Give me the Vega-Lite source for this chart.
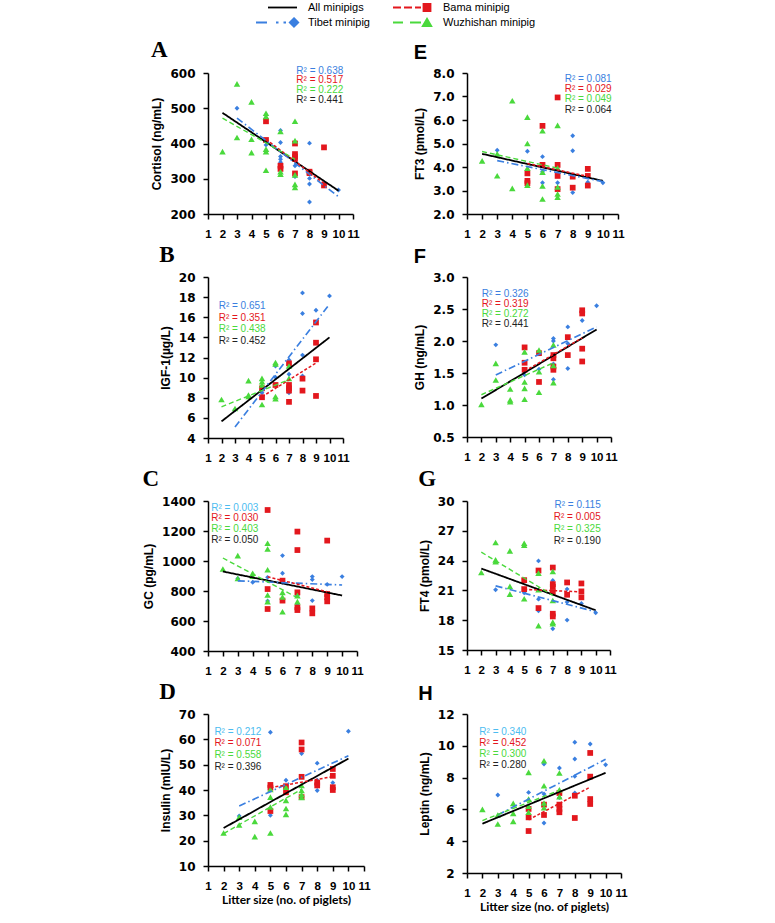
{
"$schema": "https://vega.github.io/schema/vega-lite/v6.json",
"background": "white",
"padding": {"left": 142, "top": 0, "right": 5, "bottom": 5},
"columns": 2,
"spacing": {"row": 63, "column": 103},
"bounds": "flush",
"center": {"row": true},
"resolve": {"scale": {"x": "independent", "y": "independent", "color": "independent", "shape": "independent", "size": "independent", "stroke": "independent", "fill": "independent", "strokeDash": "independent", "strokeWidth": "independent"}},
"datasets": {
"legend": [
{"series": "All", "label": "All minipigs"},
{"series": "Tibet", "label": "Tibet minipig"},
{"series": "Bama", "label": "Bama minipig"},
{"series": "Wuzhishan", "label": "Wuzhishan minipig"}
],
"r2": [
{"panel": "A", "series": "Tibet", "label": "R² = 0.638"},
{"panel": "A", "series": "Bama", "label": "R² = 0.517"},
{"panel": "A", "series": "Wuzhishan", "label": "R² = 0.222"},
{"panel": "A", "series": "All", "label": "R² = 0.441"},
{"panel": "E", "series": "Tibet", "label": "R² = 0.081"},
{"panel": "E", "series": "Bama", "label": "R² = 0.029"},
{"panel": "E", "series": "Wuzhishan", "label": "R² = 0.049"},
{"panel": "E", "series": "All", "label": "R² = 0.064"},
{"panel": "B", "series": "Tibet", "label": "R² = 0.651"},
{"panel": "B", "series": "Bama", "label": "R² = 0.351"},
{"panel": "B", "series": "Wuzhishan", "label": "R² = 0.438"},
{"panel": "B", "series": "All", "label": "R² = 0.452"},
{"panel": "F", "series": "Tibet", "label": "R² = 0.326"},
{"panel": "F", "series": "Bama", "label": "R² = 0.319"},
{"panel": "F", "series": "Wuzhishan", "label": "R² = 0.272"},
{"panel": "F", "series": "All", "label": "R² = 0.441"},
{"panel": "C", "series": "Tibet", "label": "R² = 0.003"},
{"panel": "C", "series": "Bama", "label": "R² = 0.030"},
{"panel": "C", "series": "Wuzhishan", "label": "R² = 0.403"},
{"panel": "C", "series": "All", "label": "R² = 0.050"},
{"panel": "G", "series": "Tibet", "label": "R² = 0.115"},
{"panel": "G", "series": "Bama", "label": "R² = 0.005"},
{"panel": "G", "series": "Wuzhishan", "label": "R² = 0.325"},
{"panel": "G", "series": "All", "label": "R² = 0.190"},
{"panel": "D", "series": "Tibet", "label": "R² = 0.212"},
{"panel": "D", "series": "Bama", "label": "R² = 0.071"},
{"panel": "D", "series": "Wuzhishan", "label": "R² = 0.558"},
{"panel": "D", "series": "All", "label": "R² = 0.396"},
{"panel": "H", "series": "Tibet", "label": "R² = 0.340"},
{"panel": "H", "series": "Bama", "label": "R² = 0.452"},
{"panel": "H", "series": "Wuzhishan", "label": "R² = 0.300"},
{"panel": "H", "series": "All", "label": "R² = 0.280"}
],
"lines": [
{"panel": "A", "series": "All", "litter": 2, "value": 487}, {"panel": "A", "series": "All", "litter": 10, "value": 266},
{"panel": "A", "series": "Tibet", "litter": 3, "value": 472}, {"panel": "A", "series": "Tibet", "litter": 10, "value": 249},
{"panel": "A", "series": "Bama", "litter": 5, "value": 412}, {"panel": "A", "series": "Bama", "litter": 9, "value": 287},
{"panel": "A", "series": "Wuzhishan", "litter": 2, "value": 472}, {"panel": "A", "series": "Wuzhishan", "litter": 7, "value": 355},
{"panel": "E", "series": "All", "litter": 2, "value": 4.56}, {"panel": "E", "series": "All", "litter": 10, "value": 3.41},
{"panel": "E", "series": "Tibet", "litter": 3, "value": 4.27}, {"panel": "E", "series": "Tibet", "litter": 10, "value": 3.38},
{"panel": "E", "series": "Bama", "litter": 5, "value": 4.15}, {"panel": "E", "series": "Bama", "litter": 9, "value": 3.6},
{"panel": "E", "series": "Wuzhishan", "litter": 2, "value": 4.66}, {"panel": "E", "series": "Wuzhishan", "litter": 7, "value": 3.95},
{"panel": "B", "series": "All", "litter": 2, "value": 5.65}, {"panel": "B", "series": "All", "litter": 10, "value": 14.0},
{"panel": "B", "series": "Tibet", "litter": 3, "value": 5.1}, {"panel": "B", "series": "Tibet", "litter": 10, "value": 17.3},
{"panel": "B", "series": "Bama", "litter": 5, "value": 8.1}, {"panel": "B", "series": "Bama", "litter": 9, "value": 11.45},
{"panel": "B", "series": "Wuzhishan", "litter": 2, "value": 7.1}, {"panel": "B", "series": "Wuzhishan", "litter": 7, "value": 9.8},
{"panel": "F", "series": "All", "litter": 2, "value": 1.1}, {"panel": "F", "series": "All", "litter": 10, "value": 2.18},
{"panel": "F", "series": "Tibet", "litter": 3, "value": 1.47}, {"panel": "F", "series": "Tibet", "litter": 10, "value": 2.22},
{"panel": "F", "series": "Bama", "litter": 5, "value": 1.53}, {"panel": "F", "series": "Bama", "litter": 9, "value": 2.05},
{"panel": "F", "series": "Wuzhishan", "litter": 2, "value": 1.16}, {"panel": "F", "series": "Wuzhishan", "litter": 7, "value": 1.66},
{"panel": "C", "series": "All", "litter": 2, "value": 930}, {"panel": "C", "series": "All", "litter": 10, "value": 770},
{"panel": "C", "series": "Tibet", "litter": 3, "value": 868}, {"panel": "C", "series": "Tibet", "litter": 10, "value": 840},
{"panel": "C", "series": "Bama", "litter": 5, "value": 895}, {"panel": "C", "series": "Bama", "litter": 9, "value": 795},
{"panel": "C", "series": "Wuzhishan", "litter": 2, "value": 1020}, {"panel": "C", "series": "Wuzhishan", "litter": 7, "value": 755},
{"panel": "G", "series": "All", "litter": 2, "value": 23.2}, {"panel": "G", "series": "All", "litter": 10, "value": 19.0},
{"panel": "G", "series": "Tibet", "litter": 3, "value": 21.45}, {"panel": "G", "series": "Tibet", "litter": 10, "value": 18.85},
{"panel": "G", "series": "Bama", "litter": 5, "value": 21.1}, {"panel": "G", "series": "Bama", "litter": 9, "value": 20.85},
{"panel": "G", "series": "Wuzhishan", "litter": 2, "value": 24.85}, {"panel": "G", "series": "Wuzhishan", "litter": 7, "value": 20.5},
{"panel": "D", "series": "All", "litter": 2, "value": 25}, {"panel": "D", "series": "All", "litter": 10, "value": 52.4},
{"panel": "D", "series": "Tibet", "litter": 3, "value": 33.7}, {"panel": "D", "series": "Tibet", "litter": 10, "value": 53.5},
{"panel": "D", "series": "Bama", "litter": 5, "value": 40.9}, {"panel": "D", "series": "Bama", "litter": 9, "value": 45.3},
{"panel": "D", "series": "Wuzhishan", "litter": 2, "value": 22.8}, {"panel": "D", "series": "Wuzhishan", "litter": 7, "value": 40.3},
{"panel": "H", "series": "All", "litter": 2, "value": 5.1}, {"panel": "H", "series": "All", "litter": 10, "value": 8.3},
{"panel": "H", "series": "Tibet", "litter": 3, "value": 5.65}, {"panel": "H", "series": "Tibet", "litter": 10, "value": 9.15},
{"panel": "H", "series": "Bama", "litter": 5, "value": 5.35}, {"panel": "H", "series": "Bama", "litter": 9, "value": 7.4},
{"panel": "H", "series": "Wuzhishan", "litter": 2, "value": 5.3}, {"panel": "H", "series": "Wuzhishan", "litter": 7, "value": 7.2}
],
"points": [
{"panel":"A","series":"Tibet","litter":3,"value":500},{"panel":"A","series":"Tibet","litter":5,"value":396},{"panel":"A","series":"Tibet","litter":6,"value":437},{"panel":"A","series":"Tibet","litter":6,"value":403},{"panel":"A","series":"Tibet","litter":6,"value":363},{"panel":"A","series":"Tibet","litter":6,"value":355},{"panel":"A","series":"Tibet","litter":6,"value":347},{"panel":"A","series":"Tibet","litter":7,"value":337},{"panel":"A","series":"Tibet","litter":7,"value":306},{"panel":"A","series":"Tibet","litter":8,"value":401},{"panel":"A","series":"Tibet","litter":8,"value":316},{"panel":"A","series":"Tibet","litter":8,"value":301},{"panel":"A","series":"Tibet","litter":8,"value":285},{"panel":"A","series":"Tibet","litter":8,"value":234},{"panel":"A","series":"Tibet","litter":9,"value":287},{"panel":"A","series":"Tibet","litter":10,"value":268},
{"panel":"A","series":"Bama","litter":5,"value":463},{"panel":"A","series":"Bama","litter":5,"value":410},{"panel":"A","series":"Bama","litter":6,"value":337},{"panel":"A","series":"Bama","litter":6,"value":328},{"panel":"A","series":"Bama","litter":7,"value":400},{"panel":"A","series":"Bama","litter":7,"value":370},{"panel":"A","series":"Bama","litter":7,"value":363},{"panel":"A","series":"Bama","litter":7,"value":356},{"panel":"A","series":"Bama","litter":7,"value":315},{"panel":"A","series":"Bama","litter":8,"value":320},{"panel":"A","series":"Bama","litter":8,"value":316},{"panel":"A","series":"Bama","litter":9,"value":389},{"panel":"A","series":"Bama","litter":9,"value":281},
{"panel":"A","series":"Wuzhishan","litter":2,"value":377},{"panel":"A","series":"Wuzhishan","litter":3,"value":569},{"panel":"A","series":"Wuzhishan","litter":3,"value":417},{"panel":"A","series":"Wuzhishan","litter":4,"value":518},{"panel":"A","series":"Wuzhishan","litter":4,"value":412},{"panel":"A","series":"Wuzhishan","litter":4,"value":374},{"panel":"A","series":"Wuzhishan","litter":5,"value":486},{"panel":"A","series":"Wuzhishan","litter":5,"value":477},{"panel":"A","series":"Wuzhishan","litter":5,"value":384},{"panel":"A","series":"Wuzhishan","litter":5,"value":377},{"panel":"A","series":"Wuzhishan","litter":5,"value":324},{"panel":"A","series":"Wuzhishan","litter":6,"value":434},{"panel":"A","series":"Wuzhishan","litter":6,"value":320},{"panel":"A","series":"Wuzhishan","litter":6,"value":313},{"panel":"A","series":"Wuzhishan","litter":7,"value":463},{"panel":"A","series":"Wuzhishan","litter":7,"value":408},{"panel":"A","series":"Wuzhishan","litter":7,"value":311},{"panel":"A","series":"Wuzhishan","litter":7,"value":284},{"panel":"A","series":"Wuzhishan","litter":7,"value":275},
{"panel":"E","series":"Tibet","litter":3,"value":4.71},{"panel":"E","series":"Tibet","litter":5,"value":4.67},{"panel":"E","series":"Tibet","litter":6,"value":4.44},{"panel":"E","series":"Tibet","litter":6,"value":3.8},{"panel":"E","series":"Tibet","litter":6,"value":3.33},{"panel":"E","series":"Tibet","litter":7,"value":3.9},{"panel":"E","series":"Tibet","litter":7,"value":3.33},{"panel":"E","series":"Tibet","litter":8,"value":5.33},{"panel":"E","series":"Tibet","litter":8,"value":4.69},{"panel":"E","series":"Tibet","litter":8,"value":2.91},{"panel":"E","series":"Tibet","litter":9,"value":3.35},{"panel":"E","series":"Tibet","litter":10,"value":3.33},
{"panel":"E","series":"Bama","litter":5,"value":3.73},{"panel":"E","series":"Bama","litter":5,"value":3.41},{"panel":"E","series":"Bama","litter":5,"value":3.31},{"panel":"E","series":"Bama","litter":6,"value":5.75},{"panel":"E","series":"Bama","litter":6,"value":4.09},{"panel":"E","series":"Bama","litter":7,"value":6.96},{"panel":"E","series":"Bama","litter":7,"value":4.09},{"panel":"E","series":"Bama","litter":7,"value":3.62},{"panel":"E","series":"Bama","litter":7,"value":3.06},{"panel":"E","series":"Bama","litter":8,"value":3.59},{"panel":"E","series":"Bama","litter":8,"value":3.12},{"panel":"E","series":"Bama","litter":9,"value":3.92},{"panel":"E","series":"Bama","litter":9,"value":3.62},{"panel":"E","series":"Bama","litter":9,"value":3.21},
{"panel":"E","series":"Wuzhishan","litter":2,"value":4.26},{"panel":"E","series":"Wuzhishan","litter":3,"value":4.56},{"panel":"E","series":"Wuzhishan","litter":3,"value":3.63},{"panel":"E","series":"Wuzhishan","litter":4,"value":6.82},{"panel":"E","series":"Wuzhishan","litter":4,"value":3.09},{"panel":"E","series":"Wuzhishan","litter":5,"value":6.12},{"panel":"E","series":"Wuzhishan","litter":5,"value":5.0},{"panel":"E","series":"Wuzhishan","litter":5,"value":3.95},{"panel":"E","series":"Wuzhishan","litter":5,"value":3.23},{"panel":"E","series":"Wuzhishan","litter":6,"value":5.54},{"panel":"E","series":"Wuzhishan","litter":6,"value":3.78},{"panel":"E","series":"Wuzhishan","litter":6,"value":3.19},{"panel":"E","series":"Wuzhishan","litter":6,"value":2.64},{"panel":"E","series":"Wuzhishan","litter":7,"value":5.77},{"panel":"E","series":"Wuzhishan","litter":7,"value":3.95},{"panel":"E","series":"Wuzhishan","litter":7,"value":3.15},{"panel":"E","series":"Wuzhishan","litter":7,"value":2.85},{"panel":"E","series":"Wuzhishan","litter":7,"value":2.71},
{"panel":"B","series":"Tibet","litter":3,"value":6.8},{"panel":"B","series":"Tibet","litter":5,"value":8.5},{"panel":"B","series":"Tibet","litter":6,"value":11.16},{"panel":"B","series":"Tibet","litter":6,"value":10.03},{"panel":"B","series":"Tibet","litter":7,"value":11.75},{"panel":"B","series":"Tibet","litter":7,"value":10.33},{"panel":"B","series":"Tibet","litter":7,"value":8.5},{"panel":"B","series":"Tibet","litter":8,"value":18.42},{"panel":"B","series":"Tibet","litter":8,"value":16.37},{"panel":"B","series":"Tibet","litter":8,"value":12.24},{"panel":"B","series":"Tibet","litter":8,"value":10.17},{"panel":"B","series":"Tibet","litter":9,"value":16.7},{"panel":"B","series":"Tibet","litter":10,"value":18.12},
{"panel":"B","series":"Bama","litter":5,"value":8.05},{"panel":"B","series":"Bama","litter":5,"value":8.94},{"panel":"B","series":"Bama","litter":6,"value":9.27},{"panel":"B","series":"Bama","litter":7,"value":11.42},{"panel":"B","series":"Bama","litter":7,"value":9.27},{"panel":"B","series":"Bama","litter":7,"value":8.94},{"panel":"B","series":"Bama","litter":7,"value":8.71},{"panel":"B","series":"Bama","litter":7,"value":7.59},{"panel":"B","series":"Bama","litter":8,"value":9.9},{"panel":"B","series":"Bama","litter":8,"value":8.71},{"panel":"B","series":"Bama","litter":9,"value":15.48},{"panel":"B","series":"Bama","litter":9,"value":13.47},{"panel":"B","series":"Bama","litter":9,"value":11.82},{"panel":"B","series":"Bama","litter":9,"value":8.18},
{"panel":"B","series":"Wuzhishan","litter":2,"value":7.82},{"panel":"B","series":"Wuzhishan","litter":3,"value":6.93},{"panel":"B","series":"Wuzhishan","litter":4,"value":9.7},{"panel":"B","series":"Wuzhishan","litter":4,"value":8.28},{"panel":"B","series":"Wuzhishan","litter":4,"value":8.12},{"panel":"B","series":"Wuzhishan","litter":5,"value":9.93},{"panel":"B","series":"Wuzhishan","litter":5,"value":9.6},{"panel":"B","series":"Wuzhishan","litter":5,"value":9.27},{"panel":"B","series":"Wuzhishan","litter":5,"value":7.33},{"panel":"B","series":"Wuzhishan","litter":6,"value":11.5},{"panel":"B","series":"Wuzhishan","litter":6,"value":11.35},{"panel":"B","series":"Wuzhishan","litter":6,"value":8.12},{"panel":"B","series":"Wuzhishan","litter":6,"value":7.9},{"panel":"B","series":"Wuzhishan","litter":7,"value":11.16},{"panel":"B","series":"Wuzhishan","litter":7,"value":9.93},
{"panel":"F","series":"Tibet","litter":3,"value":1.94},{"panel":"F","series":"Tibet","litter":5,"value":1.47},{"panel":"F","series":"Tibet","litter":6,"value":1.56},{"panel":"F","series":"Tibet","litter":7,"value":2.04},{"panel":"F","series":"Tibet","litter":7,"value":2.0},{"panel":"F","series":"Tibet","litter":7,"value":1.64},{"panel":"F","series":"Tibet","litter":7,"value":1.4},{"panel":"F","series":"Tibet","litter":8,"value":2.22},{"panel":"F","series":"Tibet","litter":8,"value":1.96},{"panel":"F","series":"Tibet","litter":8,"value":1.57},{"panel":"F","series":"Tibet","litter":9,"value":2.32},{"panel":"F","series":"Tibet","litter":10,"value":2.55},
{"panel":"F","series":"Bama","litter":5,"value":1.9},{"panel":"F","series":"Bama","litter":5,"value":1.66},{"panel":"F","series":"Bama","litter":5,"value":1.55},{"panel":"F","series":"Bama","litter":6,"value":1.81},{"panel":"F","series":"Bama","litter":6,"value":1.36},{"panel":"F","series":"Bama","litter":7,"value":1.78},{"panel":"F","series":"Bama","litter":7,"value":1.73},{"panel":"F","series":"Bama","litter":7,"value":1.6},{"panel":"F","series":"Bama","litter":7,"value":1.55},{"panel":"F","series":"Bama","litter":8,"value":2.06},{"panel":"F","series":"Bama","litter":8,"value":1.78},{"panel":"F","series":"Bama","litter":9,"value":2.48},{"panel":"F","series":"Bama","litter":9,"value":2.43},{"panel":"F","series":"Bama","litter":9,"value":1.88},{"panel":"F","series":"Bama","litter":9,"value":1.68},
{"panel":"F","series":"Wuzhishan","litter":2,"value":1.01},{"panel":"F","series":"Wuzhishan","litter":3,"value":1.65},{"panel":"F","series":"Wuzhishan","litter":3,"value":1.39},{"panel":"F","series":"Wuzhishan","litter":4,"value":1.25},{"panel":"F","series":"Wuzhishan","litter":4,"value":1.08},{"panel":"F","series":"Wuzhishan","litter":4,"value":1.05},{"panel":"F","series":"Wuzhishan","litter":5,"value":1.83},{"panel":"F","series":"Wuzhishan","litter":5,"value":1.36},{"panel":"F","series":"Wuzhishan","litter":5,"value":1.26},{"panel":"F","series":"Wuzhishan","litter":5,"value":1.09},{"panel":"F","series":"Wuzhishan","litter":6,"value":1.86},{"panel":"F","series":"Wuzhishan","litter":6,"value":1.52},{"panel":"F","series":"Wuzhishan","litter":6,"value":1.2},{"panel":"F","series":"Wuzhishan","litter":7,"value":1.94},{"panel":"F","series":"Wuzhishan","litter":7,"value":1.62},{"panel":"F","series":"Wuzhishan","litter":7,"value":1.35},
{"panel":"C","series":"Tibet","litter":3,"value":884},{"panel":"C","series":"Tibet","litter":4,"value":858},{"panel":"C","series":"Tibet","litter":5,"value":891},{"panel":"C","series":"Tibet","litter":5,"value":733},{"panel":"C","series":"Tibet","litter":6,"value":1036},{"panel":"C","series":"Tibet","litter":6,"value":918},{"panel":"C","series":"Tibet","litter":6,"value":860},{"panel":"C","series":"Tibet","litter":7,"value":707},{"panel":"C","series":"Tibet","litter":7,"value":770},{"panel":"C","series":"Tibet","litter":8,"value":896},{"panel":"C","series":"Tibet","litter":8,"value":876},{"panel":"C","series":"Tibet","litter":8,"value":736},{"panel":"C","series":"Tibet","litter":9,"value":844},{"panel":"C","series":"Tibet","litter":10,"value":896},
{"panel":"C","series":"Bama","litter":5,"value":1340},{"panel":"C","series":"Bama","litter":5,"value":813},{"panel":"C","series":"Bama","litter":5,"value":680},{"panel":"C","series":"Bama","litter":6,"value":869},{"panel":"C","series":"Bama","litter":6,"value":736},{"panel":"C","series":"Bama","litter":7,"value":1196},{"panel":"C","series":"Bama","litter":7,"value":1073},{"panel":"C","series":"Bama","litter":7,"value":791},{"panel":"C","series":"Bama","litter":7,"value":691},{"panel":"C","series":"Bama","litter":7,"value":673},{"panel":"C","series":"Bama","litter":8,"value":684},{"panel":"C","series":"Bama","litter":8,"value":651},{"panel":"C","series":"Bama","litter":9,"value":1136},{"panel":"C","series":"Bama","litter":9,"value":780},{"panel":"C","series":"Bama","litter":9,"value":758},{"panel":"C","series":"Bama","litter":9,"value":731},
{"panel":"C","series":"Wuzhishan","litter":2,"value":947},{"panel":"C","series":"Wuzhishan","litter":3,"value":1036},{"panel":"C","series":"Wuzhishan","litter":3,"value":884},{"panel":"C","series":"Wuzhishan","litter":4,"value":918},{"panel":"C","series":"Wuzhishan","litter":4,"value":898},{"panel":"C","series":"Wuzhishan","litter":5,"value":1118},{"panel":"C","series":"Wuzhishan","litter":5,"value":1080},{"panel":"C","series":"Wuzhishan","litter":5,"value":942},{"panel":"C","series":"Wuzhishan","litter":5,"value":773},{"panel":"C","series":"Wuzhishan","litter":5,"value":729},{"panel":"C","series":"Wuzhishan","litter":6,"value":791},{"panel":"C","series":"Wuzhishan","litter":6,"value":760},{"panel":"C","series":"Wuzhishan","litter":6,"value":662},{"panel":"C","series":"Wuzhishan","litter":7,"value":769},{"panel":"C","series":"Wuzhishan","litter":7,"value":729},
{"panel":"G","series":"Tibet","litter":3,"value":21.06},{"panel":"G","series":"Tibet","litter":5,"value":20.76},{"panel":"G","series":"Tibet","litter":6,"value":23.97},{"panel":"G","series":"Tibet","litter":6,"value":20.12},{"panel":"G","series":"Tibet","litter":6,"value":18.95},{"panel":"G","series":"Tibet","litter":7,"value":22.0},{"panel":"G","series":"Tibet","litter":7,"value":18.42},{"panel":"G","series":"Tibet","litter":7,"value":17.14},{"panel":"G","series":"Tibet","litter":8,"value":21.13},{"panel":"G","series":"Tibet","litter":8,"value":19.82},{"panel":"G","series":"Tibet","litter":8,"value":18.01},{"panel":"G","series":"Tibet","litter":9,"value":19.69},{"panel":"G","series":"Tibet","litter":10,"value":18.75},
{"panel":"G","series":"Bama","litter":5,"value":22.03},{"panel":"G","series":"Bama","litter":5,"value":21.13},{"panel":"G","series":"Bama","litter":6,"value":23.0},{"panel":"G","series":"Bama","litter":6,"value":19.22},{"panel":"G","series":"Bama","litter":7,"value":23.3},{"panel":"G","series":"Bama","litter":7,"value":21.63},{"panel":"G","series":"Bama","litter":7,"value":21.36},{"panel":"G","series":"Bama","litter":7,"value":20.83},{"panel":"G","series":"Bama","litter":7,"value":18.65},{"panel":"G","series":"Bama","litter":7,"value":18.38},{"panel":"G","series":"Bama","litter":8,"value":21.8},{"panel":"G","series":"Bama","litter":8,"value":20.56},{"panel":"G","series":"Bama","litter":9,"value":21.7},{"panel":"G","series":"Bama","litter":9,"value":20.9},{"panel":"G","series":"Bama","litter":9,"value":20.3},
{"panel":"G","series":"Wuzhishan","litter":2,"value":22.8},{"panel":"G","series":"Wuzhishan","litter":3,"value":25.82},{"panel":"G","series":"Wuzhishan","litter":3,"value":24.07},{"panel":"G","series":"Wuzhishan","litter":3,"value":23.9},{"panel":"G","series":"Wuzhishan","litter":4,"value":24.98},{"panel":"G","series":"Wuzhishan","litter":4,"value":21.4},{"panel":"G","series":"Wuzhishan","litter":4,"value":20.63},{"panel":"G","series":"Wuzhishan","litter":5,"value":25.75},{"panel":"G","series":"Wuzhishan","litter":5,"value":25.55},{"panel":"G","series":"Wuzhishan","litter":5,"value":20.16},{"panel":"G","series":"Wuzhishan","litter":6,"value":22.74},{"panel":"G","series":"Wuzhishan","litter":6,"value":21.06},{"panel":"G","series":"Wuzhishan","litter":6,"value":17.45},{"panel":"G","series":"Wuzhishan","litter":7,"value":22.9},{"panel":"G","series":"Wuzhishan","litter":7,"value":19.99},{"panel":"G","series":"Wuzhishan","litter":7,"value":17.81},{"panel":"G","series":"Wuzhishan","litter":7,"value":17.65},
{"panel":"D","series":"Tibet","litter":3,"value":29.76},{"panel":"D","series":"Tibet","litter":5,"value":62.8},{"panel":"D","series":"Tibet","litter":5,"value":30.0},{"panel":"D","series":"Tibet","litter":6,"value":43.85},{"panel":"D","series":"Tibet","litter":7,"value":54.4},{"panel":"D","series":"Tibet","litter":8,"value":50.6},{"panel":"D","series":"Tibet","litter":8,"value":43.85},{"panel":"D","series":"Tibet","litter":8,"value":39.8},{"panel":"D","series":"Tibet","litter":9,"value":42.9},{"panel":"D","series":"Tibet","litter":10,"value":63.2},
{"panel":"D","series":"Bama","litter":5,"value":42.0},{"panel":"D","series":"Bama","litter":5,"value":40.9},{"panel":"D","series":"Bama","litter":5,"value":31.7},{"panel":"D","series":"Bama","litter":6,"value":41.5},{"panel":"D","series":"Bama","litter":6,"value":39.1},{"panel":"D","series":"Bama","litter":7,"value":58.75},{"panel":"D","series":"Bama","litter":7,"value":56.0},{"panel":"D","series":"Bama","litter":7,"value":45.2},{"panel":"D","series":"Bama","litter":7,"value":37.2},{"panel":"D","series":"Bama","litter":8,"value":42.9},{"panel":"D","series":"Bama","litter":8,"value":41.8},{"panel":"D","series":"Bama","litter":9,"value":48.3},{"panel":"D","series":"Bama","litter":9,"value":45.6},{"panel":"D","series":"Bama","litter":9,"value":41.1},{"panel":"D","series":"Bama","litter":9,"value":40.0},
{"panel":"D","series":"Wuzhishan","litter":2,"value":23.0},{"panel":"D","series":"Wuzhishan","litter":3,"value":29.3},{"panel":"D","series":"Wuzhishan","litter":3,"value":26.2},{"panel":"D","series":"Wuzhishan","litter":4,"value":27.6},{"panel":"D","series":"Wuzhishan","litter":4,"value":21.6},{"panel":"D","series":"Wuzhishan","litter":5,"value":40.2},{"panel":"D","series":"Wuzhishan","litter":5,"value":37.2},{"panel":"D","series":"Wuzhishan","litter":5,"value":33.3},{"panel":"D","series":"Wuzhishan","litter":5,"value":23.0},{"panel":"D","series":"Wuzhishan","litter":6,"value":41.1},{"panel":"D","series":"Wuzhishan","litter":6,"value":35.9},{"panel":"D","series":"Wuzhishan","litter":6,"value":32.7},{"panel":"D","series":"Wuzhishan","litter":6,"value":30.4},{"panel":"D","series":"Wuzhishan","litter":7,"value":41.8},{"panel":"D","series":"Wuzhishan","litter":7,"value":39.8},{"panel":"D","series":"Wuzhishan","litter":7,"value":38.2},{"panel":"D","series":"Wuzhishan","litter":7,"value":37.1},
{"panel":"H","series":"Tibet","litter":3,"value":6.91},{"panel":"H","series":"Tibet","litter":5,"value":7.07},{"panel":"H","series":"Tibet","litter":6,"value":8.86},{"panel":"H","series":"Tibet","litter":6,"value":6.97},{"panel":"H","series":"Tibet","litter":6,"value":5.14},{"panel":"H","series":"Tibet","litter":7,"value":8.6},{"panel":"H","series":"Tibet","litter":7,"value":6.74},{"panel":"H","series":"Tibet","litter":8,"value":10.22},{"panel":"H","series":"Tibet","litter":8,"value":9.17},{"panel":"H","series":"Tibet","litter":8,"value":8.08},{"panel":"H","series":"Tibet","litter":8,"value":7.03},{"panel":"H","series":"Tibet","litter":9,"value":10.11},{"panel":"H","series":"Tibet","litter":10,"value":8.81},
{"panel":"H","series":"Bama","litter":5,"value":6.03},{"panel":"H","series":"Bama","litter":5,"value":5.5},{"panel":"H","series":"Bama","litter":5,"value":4.64},{"panel":"H","series":"Bama","litter":6,"value":6.3},{"panel":"H","series":"Bama","litter":6,"value":5.65},{"panel":"H","series":"Bama","litter":7,"value":7.03},{"panel":"H","series":"Bama","litter":7,"value":6.3},{"panel":"H","series":"Bama","litter":7,"value":6.03},{"panel":"H","series":"Bama","litter":7,"value":5.82},{"panel":"H","series":"Bama","litter":8,"value":6.86},{"panel":"H","series":"Bama","litter":8,"value":5.46},{"panel":"H","series":"Bama","litter":9,"value":9.55},{"panel":"H","series":"Bama","litter":9,"value":8.06},{"panel":"H","series":"Bama","litter":9,"value":6.65},{"panel":"H","series":"Bama","litter":9,"value":6.34},
{"panel":"H","series":"Wuzhishan","litter":2,"value":6.0},{"panel":"H","series":"Wuzhishan","litter":3,"value":5.65},{"panel":"H","series":"Wuzhishan","litter":3,"value":5.08},{"panel":"H","series":"Wuzhishan","litter":4,"value":6.38},{"panel":"H","series":"Wuzhishan","litter":4,"value":5.75},{"panel":"H","series":"Wuzhishan","litter":4,"value":5.25},{"panel":"H","series":"Wuzhishan","litter":5,"value":8.33},{"panel":"H","series":"Wuzhishan","litter":5,"value":6.65},{"panel":"H","series":"Wuzhishan","litter":5,"value":6.2},{"panel":"H","series":"Wuzhishan","litter":5,"value":5.82},{"panel":"H","series":"Wuzhishan","litter":6,"value":9.06},{"panel":"H","series":"Wuzhishan","litter":6,"value":7.49},{"panel":"H","series":"Wuzhishan","litter":6,"value":6.4},{"panel":"H","series":"Wuzhishan","litter":6,"value":6.1},{"panel":"H","series":"Wuzhishan","litter":7,"value":8.29},{"panel":"H","series":"Wuzhishan","litter":7,"value":7.24},{"panel":"H","series":"Wuzhishan","litter":7,"value":6.8}
]
},
"concat": [
{
"width": 100, "height": 10,
"data": {"name": "legend"},
"transform": [{"filter": "datum.series === 'All' || datum.series === 'Tibet'"}],
"layer": [
{"mark": {"type": "point", "filled": true, "opacity": 1, "size": 100, "strokeWidth": 1.8},
 "encoding": {
  "x": {"field": "series", "type": "nominal", "scale": {"type": "point", "domain": ["All", "Tibet"], "range": [86, 86], "padding": 0}, "axis": null},
  "y": {"field": "series", "type": "nominal", "scale": {"type": "point", "domain": ["All", "Tibet"], "range": [7.5, 22.5], "padding": 0}, "axis": null},
  "shape": {"field": "series", "type": "nominal", "scale": {"domain": ["All", "Tibet"], "range": ["M-5.2,0H0.6", "M-7.6,0H-5.4M-3.6,0H-3.1M-2.1,0H-1.6M0,-0.85L0.85,0L0,0.85L-0.85,0Z"]}, "legend": null},
  "color": {"field": "series", "type": "nominal", "scale": {"domain": ["All", "Tibet"], "range": ["#000000", "#3a7fe0"]}, "legend": null},
  "stroke": {"field": "series", "type": "nominal", "scale": {"domain": ["All", "Tibet"], "range": ["#000000", "#3a7fe0"]}, "legend": null}
 }},
{"mark": {"type": "text", "align": "left", "baseline": "middle", "dx": 14, "font": "Liberation Sans", "fontSize": 11, "color": "#000000"},
 "encoding": {
  "x": {"field": "series", "type": "nominal", "scale": {"type": "point", "domain": ["All", "Tibet"], "range": [86, 86], "padding": 0}, "axis": null},
  "y": {"field": "series", "type": "nominal", "scale": {"type": "point", "domain": ["All", "Tibet"], "range": [7.5, 22.5], "padding": 0}, "axis": null},
  "text": {"field": "label"}
 }}
]
},
{
"width": 100, "height": 10,
"data": {"name": "legend"},
"transform": [{"filter": "datum.series === 'Bama' || datum.series === 'Wuzhishan'"}],
"layer": [
{"mark": {"type": "point", "filled": true, "opacity": 1, "size": 100, "strokeWidth": 1.8},
 "encoding": {
  "x": {"field": "series", "type": "nominal", "scale": {"type": "point", "domain": ["Bama", "Wuzhishan"], "range": [-40, -40], "padding": 0}, "axis": null},
  "y": {"field": "series", "type": "nominal", "scale": {"type": "point", "domain": ["Bama", "Wuzhishan"], "range": [7.5, 22.5], "padding": 0}, "axis": null},
  "shape": {"field": "series", "type": "nominal", "scale": {"domain": ["Bama", "Wuzhishan"], "range": ["M-6.8,0H-5.2M-4.6,0H-3M-2.4,0H-1.2M-0.7,-0.7H0.7V0.7H-0.7Z", "M-6.8,0H-4.8M-3.4,0H-1.2M0,-0.75L0.85,0.7H-0.85Z"]}, "legend": null},
  "color": {"field": "series", "type": "nominal", "scale": {"domain": ["Bama", "Wuzhishan"], "range": ["#e3171d", "#4ad93c"]}, "legend": null},
  "stroke": {"field": "series", "type": "nominal", "scale": {"domain": ["Bama", "Wuzhishan"], "range": ["#e3171d", "#4ad93c"]}, "legend": null}
 }},
{"mark": {"type": "text", "align": "left", "baseline": "middle", "dx": 16, "font": "Liberation Sans", "fontSize": 11, "color": "#000000"},
 "encoding": {
  "x": {"field": "series", "type": "nominal", "scale": {"type": "point", "domain": ["Bama", "Wuzhishan"], "range": [-40, -40], "padding": 0}, "axis": null},
  "y": {"field": "series", "type": "nominal", "scale": {"type": "point", "domain": ["Bama", "Wuzhishan"], "range": [7.5, 22.5], "padding": 0}, "axis": null},
  "text": {"field": "label"}
 }}
]
},
{
"width": 145, "height": 141,
"title": {"text": "A", "font": "Liberation Serif", "fontSize": 23},
"layer": [
{"layer": [
 {"data": {"name": "points"}, "transform": [{"filter": "datum.panel === 'A'"}],
  "mark": {"type": "point", "filled": true, "opacity": 1},
  "encoding": {
   "x": {"field": "litter", "type": "quantitative", "scale": {"domain": [1, 11], "nice": false, "zero": false}, "axis": {"values": [1,2,3,4,5,6,7,8,9,10,11], "tickCount": 30, "format": "d", "title": null, "labelOverlap": false, "labelFlush": false}},
   "y": {"field": "value", "type": "quantitative", "scale": {"domain": [200, 600], "nice": false, "zero": false}, "axis": {"values": [200,300,400,500,600], "tickCount": 30, "format": "d", "title": "Cortisol (ng/mL)", "labelOverlap": false, "labelFlush": false}},
   "color": {"field": "series", "type": "nominal", "scale": {"domain": ["All","Tibet","Bama","Wuzhishan"], "range": ["#000000","#3a7fe0","#e3171d","#4ad93c"]}, "legend": null},
   "shape": {"field": "series", "type": "nominal", "scale": {"domain": ["Tibet","Bama","Wuzhishan"], "range": ["diamond","square","triangle-up"]}, "legend": null},
   "size": {"field": "series", "type": "ordinal", "scale": {"domain": ["Tibet","Bama","Wuzhishan"], "range": [24, 42, 30]}, "legend": null}
  }},
 {"data": {"name": "lines"}, "transform": [{"filter": "datum.panel === 'A'"}],
  "mark": {"type": "line"},
  "encoding": {
   "x": {"field": "litter", "type": "quantitative"},
   "y": {"field": "value", "type": "quantitative"},
   "color": {"field": "series", "type": "nominal", "legend": null},
   "strokeDash": {"field": "series", "type": "nominal", "scale": {"domain": ["All","Tibet","Bama","Wuzhishan"], "range": [[1,0],[7,3,1.5,3],[3,2],[5,3]]}, "legend": null},
   "strokeWidth": {"field": "series", "type": "nominal", "scale": {"domain": ["All","Tibet","Bama","Wuzhishan"], "range": [1.8,1.4,1.4,1.5]}, "legend": null}
  }}
]},
{"data": {"name": "r2"}, "transform": [{"filter": "datum.panel === 'A'"}],
 "mark": {"type": "text", "align": "right", "baseline": "middle", "font": "Liberation Sans", "fontSize": 10},
 "encoding": {
  "x": {"datum": 10.33, "type": "quantitative"},
  "y": {"field": "series", "type": "nominal", "scale": {"type": "point", "domain": ["Tibet","Bama","Wuzhishan","All"], "range": [-2.3, 26.8], "padding": 0}, "axis": null},
  "text": {"field": "label"},
  "fill": {"field": "series", "type": "nominal", "scale": {"domain": ["Tibet","Bama","Wuzhishan","All"], "range": ["#3a7fe0","#e3171d","#4ad93c","#222222"]}, "legend": null}
 }}
],
"resolve": {"scale": {"y": "independent"}}
},
{
"width": 151, "height": 141,
"title": {"text": "E", "font": "Liberation Sans", "fontSize": 20},
"layer": [
{"layer": [
 {"data": {"name": "points"}, "transform": [{"filter": "datum.panel === 'E'"}],
  "mark": {"type": "point", "filled": true, "opacity": 1},
  "encoding": {
   "x": {"field": "litter", "type": "quantitative", "scale": {"domain": [1, 11], "nice": false, "zero": false}, "axis": {"values": [1,2,3,4,5,6,7,8,9,10,11], "tickCount": 30, "format": "d", "title": null, "labelOverlap": false, "labelFlush": false}},
   "y": {"field": "value", "type": "quantitative", "scale": {"domain": [2, 8], "nice": false, "zero": false}, "axis": {"values": [2,3,4,5,6,7,8], "tickCount": 30, "format": ".1f", "title": "FT3 (pmol/L)", "labelOverlap": false, "labelFlush": false}},
   "color": {"field": "series", "type": "nominal", "scale": {"domain": ["All","Tibet","Bama","Wuzhishan"], "range": ["#000000","#3a7fe0","#e3171d","#4ad93c"]}, "legend": null},
   "shape": {"field": "series", "type": "nominal", "scale": {"domain": ["Tibet","Bama","Wuzhishan"], "range": ["diamond","square","triangle-up"]}, "legend": null},
   "size": {"field": "series", "type": "ordinal", "scale": {"domain": ["Tibet","Bama","Wuzhishan"], "range": [24, 42, 30]}, "legend": null}
  }},
 {"data": {"name": "lines"}, "transform": [{"filter": "datum.panel === 'E'"}],
  "mark": {"type": "line"},
  "encoding": {
   "x": {"field": "litter", "type": "quantitative"},
   "y": {"field": "value", "type": "quantitative"},
   "color": {"field": "series", "type": "nominal", "legend": null},
   "strokeDash": {"field": "series", "type": "nominal", "scale": {"domain": ["All","Tibet","Bama","Wuzhishan"], "range": [[1,0],[7,3,1.5,3],[3,2],[5,3]]}, "legend": null},
   "strokeWidth": {"field": "series", "type": "nominal", "scale": {"domain": ["All","Tibet","Bama","Wuzhishan"], "range": [1.8,1.4,1.4,1.5]}, "legend": null}
  }}
]},
{"data": {"name": "r2"}, "transform": [{"filter": "datum.panel === 'E'"}],
 "mark": {"type": "text", "align": "right", "baseline": "middle", "font": "Liberation Sans", "fontSize": 10},
 "encoding": {
  "x": {"datum": 10.58, "type": "quantitative"},
  "y": {"field": "series", "type": "nominal", "scale": {"type": "point", "domain": ["Tibet","Bama","Wuzhishan","All"], "range": [5.7, 36.6], "padding": 0}, "axis": null},
  "text": {"field": "label"},
  "fill": {"field": "series", "type": "nominal", "scale": {"domain": ["Tibet","Bama","Wuzhishan","All"], "range": ["#3a7fe0","#e3171d","#4ad93c","#222222"]}, "legend": null}
 }}
],
"resolve": {"scale": {"y": "independent"}}
},
{
"width": 135, "height": 161,
"title": {"text": "B", "font": "Liberation Serif", "fontSize": 23},
"layer": [
{"layer": [
 {"data": {"name": "points"}, "transform": [{"filter": "datum.panel === 'B'"}],
  "mark": {"type": "point", "filled": true, "opacity": 1},
  "encoding": {
   "x": {"field": "litter", "type": "quantitative", "scale": {"domain": [1, 11], "nice": false, "zero": false}, "axis": {"values": [1,2,3,4,5,6,7,8,9,10,11], "tickCount": 30, "format": "d", "title": null, "labelOverlap": false, "labelFlush": false}},
   "y": {"field": "value", "type": "quantitative", "scale": {"domain": [4, 20], "nice": false, "zero": false}, "axis": {"values": [4,6,8,10,12,14,16,18,20], "tickCount": 30, "format": "d", "title": "IGF-1(µg/L)", "labelOverlap": false, "labelFlush": false}},
   "color": {"field": "series", "type": "nominal", "scale": {"domain": ["All","Tibet","Bama","Wuzhishan"], "range": ["#000000","#3a7fe0","#e3171d","#4ad93c"]}, "legend": null},
   "shape": {"field": "series", "type": "nominal", "scale": {"domain": ["Tibet","Bama","Wuzhishan"], "range": ["diamond","square","triangle-up"]}, "legend": null},
   "size": {"field": "series", "type": "ordinal", "scale": {"domain": ["Tibet","Bama","Wuzhishan"], "range": [24, 42, 30]}, "legend": null}
  }},
 {"data": {"name": "lines"}, "transform": [{"filter": "datum.panel === 'B'"}],
  "mark": {"type": "line"},
  "encoding": {
   "x": {"field": "litter", "type": "quantitative"},
   "y": {"field": "value", "type": "quantitative"},
   "color": {"field": "series", "type": "nominal", "legend": null},
   "strokeDash": {"field": "series", "type": "nominal", "scale": {"domain": ["All","Tibet","Bama","Wuzhishan"], "range": [[1,0],[7,3,1.5,3],[3,2],[5,3]]}, "legend": null},
   "strokeWidth": {"field": "series", "type": "nominal", "scale": {"domain": ["All","Tibet","Bama","Wuzhishan"], "range": [1.8,1.4,1.4,1.5]}, "legend": null}
  }}
]},
{"data": {"name": "r2"}, "transform": [{"filter": "datum.panel === 'B'"}],
 "mark": {"type": "text", "align": "left", "baseline": "middle", "font": "Liberation Sans", "fontSize": 10},
 "encoding": {
  "x": {"datum": 1.79, "type": "quantitative"},
  "y": {"field": "series", "type": "nominal", "scale": {"type": "point", "domain": ["Tibet","Bama","Wuzhishan","All"], "range": [29.3, 63.8], "padding": 0}, "axis": null},
  "text": {"field": "label"},
  "fill": {"field": "series", "type": "nominal", "scale": {"domain": ["Tibet","Bama","Wuzhishan","All"], "range": ["#3a7fe0","#e3171d","#4ad93c","#222222"]}, "legend": null}
 }}
],
"resolve": {"scale": {"y": "independent"}}
},
{
"width": 144, "height": 160,
"title": {"text": "F", "font": "Liberation Sans", "fontSize": 20},
"layer": [
{"layer": [
 {"data": {"name": "points"}, "transform": [{"filter": "datum.panel === 'F'"}],
  "mark": {"type": "point", "filled": true, "opacity": 1},
  "encoding": {
   "x": {"field": "litter", "type": "quantitative", "scale": {"domain": [1, 11], "nice": false, "zero": false}, "axis": {"values": [1,2,3,4,5,6,7,8,9,10,11], "tickCount": 30, "format": "d", "title": null, "labelOverlap": false, "labelFlush": false}},
   "y": {"field": "value", "type": "quantitative", "scale": {"domain": [0.5, 3], "nice": false, "zero": false}, "axis": {"values": [0.5,1,1.5,2,2.5,3], "tickCount": 30, "format": ".1f", "title": "GH (ng/mL)", "labelOverlap": false, "labelFlush": false}},
   "color": {"field": "series", "type": "nominal", "scale": {"domain": ["All","Tibet","Bama","Wuzhishan"], "range": ["#000000","#3a7fe0","#e3171d","#4ad93c"]}, "legend": null},
   "shape": {"field": "series", "type": "nominal", "scale": {"domain": ["Tibet","Bama","Wuzhishan"], "range": ["diamond","square","triangle-up"]}, "legend": null},
   "size": {"field": "series", "type": "ordinal", "scale": {"domain": ["Tibet","Bama","Wuzhishan"], "range": [24, 42, 30]}, "legend": null}
  }},
 {"data": {"name": "lines"}, "transform": [{"filter": "datum.panel === 'F'"}],
  "mark": {"type": "line"},
  "encoding": {
   "x": {"field": "litter", "type": "quantitative"},
   "y": {"field": "value", "type": "quantitative"},
   "color": {"field": "series", "type": "nominal", "legend": null},
   "strokeDash": {"field": "series", "type": "nominal", "scale": {"domain": ["All","Tibet","Bama","Wuzhishan"], "range": [[1,0],[7,3,1.5,3],[3,2],[5,3]]}, "legend": null},
   "strokeWidth": {"field": "series", "type": "nominal", "scale": {"domain": ["All","Tibet","Bama","Wuzhishan"], "range": [1.8,1.4,1.4,1.5]}, "legend": null}
  }}
]},
{"data": {"name": "r2"}, "transform": [{"filter": "datum.panel === 'F'"}],
 "mark": {"type": "text", "align": "left", "baseline": "middle", "font": "Liberation Sans", "fontSize": 10},
 "encoding": {
  "x": {"datum": 2.02, "type": "quantitative"},
  "y": {"field": "series", "type": "nominal", "scale": {"type": "point", "domain": ["Tibet","Bama","Wuzhishan","All"], "range": [17.3, 47.3], "padding": 0}, "axis": null},
  "text": {"field": "label"},
  "fill": {"field": "series", "type": "nominal", "scale": {"domain": ["Tibet","Bama","Wuzhishan","All"], "range": ["#3a7fe0","#e3171d","#4ad93c","#222222"]}, "legend": null}
 }}
],
"resolve": {"scale": {"y": "independent"}}
},
{
"width": 149, "height": 150,
"title": {"text": "C", "font": "Liberation Serif", "fontSize": 23},
"layer": [
{"layer": [
 {"data": {"name": "points"}, "transform": [{"filter": "datum.panel === 'C'"}],
  "mark": {"type": "point", "filled": true, "opacity": 1},
  "encoding": {
   "x": {"field": "litter", "type": "quantitative", "scale": {"domain": [1, 11], "nice": false, "zero": false}, "axis": {"values": [1,2,3,4,5,6,7,8,9,10,11], "tickCount": 30, "format": "d", "title": null, "labelOverlap": false, "labelFlush": false}},
   "y": {"field": "value", "type": "quantitative", "scale": {"domain": [400, 1400], "nice": false, "zero": false}, "axis": {"values": [400,600,800,1000,1200,1400], "tickCount": 30, "format": "d", "title": "GC (pg/mL)", "labelOverlap": false, "labelFlush": false}},
   "color": {"field": "series", "type": "nominal", "scale": {"domain": ["All","Tibet","Bama","Wuzhishan"], "range": ["#000000","#3a7fe0","#e3171d","#4ad93c"]}, "legend": null},
   "shape": {"field": "series", "type": "nominal", "scale": {"domain": ["Tibet","Bama","Wuzhishan"], "range": ["diamond","square","triangle-up"]}, "legend": null},
   "size": {"field": "series", "type": "ordinal", "scale": {"domain": ["Tibet","Bama","Wuzhishan"], "range": [24, 42, 30]}, "legend": null}
  }},
 {"data": {"name": "lines"}, "transform": [{"filter": "datum.panel === 'C'"}],
  "mark": {"type": "line"},
  "encoding": {
   "x": {"field": "litter", "type": "quantitative"},
   "y": {"field": "value", "type": "quantitative"},
   "color": {"field": "series", "type": "nominal", "legend": null},
   "strokeDash": {"field": "series", "type": "nominal", "scale": {"domain": ["All","Tibet","Bama","Wuzhishan"], "range": [[1,0],[7,3,1.5,3],[3,2],[5,3]]}, "legend": null},
   "strokeWidth": {"field": "series", "type": "nominal", "scale": {"domain": ["All","Tibet","Bama","Wuzhishan"], "range": [1.8,1.4,1.4,1.5]}, "legend": null}
  }}
]},
{"data": {"name": "r2"}, "transform": [{"filter": "datum.panel === 'C'"}],
 "mark": {"type": "text", "align": "left", "baseline": "middle", "font": "Liberation Sans", "fontSize": 10},
 "encoding": {
  "x": {"datum": 1.22, "type": "quantitative"},
  "y": {"field": "series", "type": "nominal", "scale": {"type": "point", "domain": ["Tibet","Bama","Wuzhishan","All"], "range": [6.7, 38.8], "padding": 0}, "axis": null},
  "text": {"field": "label"},
  "fill": {"field": "series", "type": "nominal", "scale": {"domain": ["Tibet","Bama","Wuzhishan","All"], "range": ["#4cbcf0","#e3171d","#4ad93c","#222222"]}, "legend": null}
 }}
],
"resolve": {"scale": {"y": "independent"}}
},
{
"width": 143, "height": 149,
"title": {"text": "G", "font": "Liberation Serif", "fontSize": 23},
"layer": [
{"layer": [
 {"data": {"name": "points"}, "transform": [{"filter": "datum.panel === 'G'"}],
  "mark": {"type": "point", "filled": true, "opacity": 1},
  "encoding": {
   "x": {"field": "litter", "type": "quantitative", "scale": {"domain": [1, 11], "nice": false, "zero": false}, "axis": {"values": [1,2,3,4,5,6,7,8,9,10,11], "tickCount": 30, "format": "d", "title": null, "labelOverlap": false, "labelFlush": false}},
   "y": {"field": "value", "type": "quantitative", "scale": {"domain": [15, 30], "nice": false, "zero": false}, "axis": {"values": [15,18,21,24,27,30], "tickCount": 30, "format": "d", "title": "FT4 (pmol/L)", "labelOverlap": false, "labelFlush": false}},
   "color": {"field": "series", "type": "nominal", "scale": {"domain": ["All","Tibet","Bama","Wuzhishan"], "range": ["#000000","#3a7fe0","#e3171d","#4ad93c"]}, "legend": null},
   "shape": {"field": "series", "type": "nominal", "scale": {"domain": ["Tibet","Bama","Wuzhishan"], "range": ["diamond","square","triangle-up"]}, "legend": null},
   "size": {"field": "series", "type": "ordinal", "scale": {"domain": ["Tibet","Bama","Wuzhishan"], "range": [24, 42, 30]}, "legend": null}
  }},
 {"data": {"name": "lines"}, "transform": [{"filter": "datum.panel === 'G'"}],
  "mark": {"type": "line"},
  "encoding": {
   "x": {"field": "litter", "type": "quantitative"},
   "y": {"field": "value", "type": "quantitative"},
   "color": {"field": "series", "type": "nominal", "legend": null},
   "strokeDash": {"field": "series", "type": "nominal", "scale": {"domain": ["All","Tibet","Bama","Wuzhishan"], "range": [[1,0],[7,3,1.5,3],[3,2],[5,3]]}, "legend": null},
   "strokeWidth": {"field": "series", "type": "nominal", "scale": {"domain": ["All","Tibet","Bama","Wuzhishan"], "range": [1.8,1.4,1.4,1.5]}, "legend": null}
  }}
]},
{"data": {"name": "r2"}, "transform": [{"filter": "datum.panel === 'G'"}],
 "mark": {"type": "text", "align": "right", "baseline": "middle", "font": "Liberation Sans", "fontSize": 10},
 "encoding": {
  "x": {"datum": 10.35, "type": "quantitative"},
  "y": {"field": "series", "type": "nominal", "scale": {"type": "point", "domain": ["Tibet","Bama","Wuzhishan","All"], "range": [4, 39.7], "padding": 0}, "axis": null},
  "text": {"field": "label"},
  "fill": {"field": "series", "type": "nominal", "scale": {"domain": ["Tibet","Bama","Wuzhishan","All"], "range": ["#3a7fe0","#e3171d","#4ad93c","#222222"]}, "legend": null}
 }}
],
"resolve": {"scale": {"y": "independent"}}
},
{
"width": 156, "height": 152,
"title": {"text": "D", "font": "Liberation Serif", "fontSize": 23},
"layer": [
{"layer": [
 {"data": {"name": "points"}, "transform": [{"filter": "datum.panel === 'D'"}],
  "mark": {"type": "point", "filled": true, "opacity": 1},
  "encoding": {
   "x": {"field": "litter", "type": "quantitative", "scale": {"domain": [1, 11], "nice": false, "zero": false}, "axis": {"values": [1,2,3,4,5,6,7,8,9,10,11], "tickCount": 30, "format": "d", "title": "Litter size (no. of piglets)", "labelOverlap": false, "labelFlush": false}},
   "y": {"field": "value", "type": "quantitative", "scale": {"domain": [10, 70], "nice": false, "zero": false}, "axis": {"values": [10,20,30,40,50,60,70], "tickCount": 30, "format": "d", "title": "Insulin (mIU/L)", "labelOverlap": false, "labelFlush": false}},
   "color": {"field": "series", "type": "nominal", "scale": {"domain": ["All","Tibet","Bama","Wuzhishan"], "range": ["#000000","#3a7fe0","#e3171d","#4ad93c"]}, "legend": null},
   "shape": {"field": "series", "type": "nominal", "scale": {"domain": ["Tibet","Bama","Wuzhishan"], "range": ["diamond","square","triangle-up"]}, "legend": null},
   "size": {"field": "series", "type": "ordinal", "scale": {"domain": ["Tibet","Bama","Wuzhishan"], "range": [24, 42, 30]}, "legend": null}
  }},
 {"data": {"name": "lines"}, "transform": [{"filter": "datum.panel === 'D'"}],
  "mark": {"type": "line"},
  "encoding": {
   "x": {"field": "litter", "type": "quantitative"},
   "y": {"field": "value", "type": "quantitative"},
   "color": {"field": "series", "type": "nominal", "legend": null},
   "strokeDash": {"field": "series", "type": "nominal", "scale": {"domain": ["All","Tibet","Bama","Wuzhishan"], "range": [[1,0],[7,3,1.5,3],[3,2],[5,3]]}, "legend": null},
   "strokeWidth": {"field": "series", "type": "nominal", "scale": {"domain": ["All","Tibet","Bama","Wuzhishan"], "range": [1.8,1.4,1.4,1.5]}, "legend": null}
  }}
]},
{"data": {"name": "r2"}, "transform": [{"filter": "datum.panel === 'D'"}],
 "mark": {"type": "text", "align": "left", "baseline": "middle", "font": "Liberation Sans", "fontSize": 10},
 "encoding": {
  "x": {"datum": 1.41, "type": "quantitative"},
  "y": {"field": "series", "type": "nominal", "scale": {"type": "point", "domain": ["Tibet","Bama","Wuzhishan","All"], "range": [17.7, 52.5], "padding": 0}, "axis": null},
  "text": {"field": "label"},
  "fill": {"field": "series", "type": "nominal", "scale": {"domain": ["Tibet","Bama","Wuzhishan","All"], "range": ["#4cbcf0","#e3171d","#4ad93c","#222222"]}, "legend": null}
 }}
],
"resolve": {"scale": {"y": "independent"}}
},
{
"width": 154, "height": 159,
"title": {"text": "H", "font": "Liberation Sans", "fontSize": 20},
"layer": [
{"layer": [
 {"data": {"name": "points"}, "transform": [{"filter": "datum.panel === 'H'"}],
  "mark": {"type": "point", "filled": true, "opacity": 1},
  "encoding": {
   "x": {"field": "litter", "type": "quantitative", "scale": {"domain": [1, 11], "nice": false, "zero": false}, "axis": {"values": [1,2,3,4,5,6,7,8,9,10,11], "tickCount": 30, "format": "d", "title": "Litter size (no. of piglets)", "labelOverlap": false, "labelFlush": false}},
   "y": {"field": "value", "type": "quantitative", "scale": {"domain": [2, 12], "nice": false, "zero": false}, "axis": {"values": [2,4,6,8,10,12], "tickCount": 30, "format": "d", "title": "Leptin (ng/mL)", "labelOverlap": false, "labelFlush": false}},
   "color": {"field": "series", "type": "nominal", "scale": {"domain": ["All","Tibet","Bama","Wuzhishan"], "range": ["#000000","#3a7fe0","#e3171d","#4ad93c"]}, "legend": null},
   "shape": {"field": "series", "type": "nominal", "scale": {"domain": ["Tibet","Bama","Wuzhishan"], "range": ["diamond","square","triangle-up"]}, "legend": null},
   "size": {"field": "series", "type": "ordinal", "scale": {"domain": ["Tibet","Bama","Wuzhishan"], "range": [24, 42, 30]}, "legend": null}
  }},
 {"data": {"name": "lines"}, "transform": [{"filter": "datum.panel === 'H'"}],
  "mark": {"type": "line"},
  "encoding": {
   "x": {"field": "litter", "type": "quantitative"},
   "y": {"field": "value", "type": "quantitative"},
   "color": {"field": "series", "type": "nominal", "legend": null},
   "strokeDash": {"field": "series", "type": "nominal", "scale": {"domain": ["All","Tibet","Bama","Wuzhishan"], "range": [[1,0],[7,3,1.5,3],[3,2],[5,3]]}, "legend": null},
   "strokeWidth": {"field": "series", "type": "nominal", "scale": {"domain": ["All","Tibet","Bama","Wuzhishan"], "range": [1.8,1.4,1.4,1.5]}, "legend": null}
  }}
]},
{"data": {"name": "r2"}, "transform": [{"filter": "datum.panel === 'H'"}],
 "mark": {"type": "text", "align": "left", "baseline": "middle", "font": "Liberation Sans", "fontSize": 10},
 "encoding": {
  "x": {"datum": 1.8, "type": "quantitative"},
  "y": {"field": "series", "type": "nominal", "scale": {"type": "point", "domain": ["Tibet","Bama","Wuzhishan","All"], "range": [18.3, 50.7], "padding": 0}, "axis": null},
  "text": {"field": "label"},
  "fill": {"field": "series", "type": "nominal", "scale": {"domain": ["Tibet","Bama","Wuzhishan","All"], "range": ["#4cbcf0","#e3171d","#4ad93c","#222222"]}, "legend": null}
 }}
],
"resolve": {"scale": {"y": "independent"}}
}
],
"config": {
"view": {"stroke": null},
"axis": {"grid": false, "domainColor": "#000000", "domainWidth": 1.5, "tickColor": "#000000", "tickWidth": 1.5, "tickSize": 5, "labelFont": "Liberation Sans", "labelFontWeight": "bold", "labelColor": "#000000", "titleFont": "Liberation Sans", "titleFontWeight": "bold", "titleColor": "#000000", "titleFontSize": 12},
"axisX": {"labelFontSize": 11.5, "labelPadding": 9, "titleFont": "Lato", "titleFontSize": 12, "titlePadding": 3},
"axisY": {"labelFont": "DejaVu Sans", "labelFontSize": 12, "labelPadding": 8, "titlePadding": 6},
"title": {"anchor": "start", "frame": "bounds", "font": "Liberation Sans", "fontSize": 22, "fontWeight": "bold", "color": "#000000", "offset": 4}
}
}
